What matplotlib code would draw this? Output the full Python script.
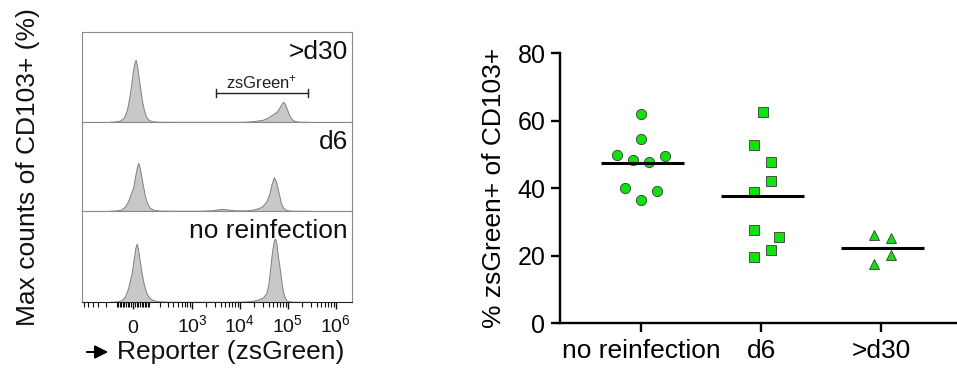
import numpy as np
import matplotlib
matplotlib.use("Agg")
import matplotlib.pyplot as plt

plt.rcParams['font.family'] = ['Liberation Sans', 'DejaVu Sans']
plt.rcParams['mathtext.fontset'] = 'custom'
plt.rcParams['mathtext.rm'] = 'Liberation Sans'
plt.rcParams['mathtext.it'] = 'Liberation Sans'
plt.rcParams['mathtext.bf'] = 'Liberation Sans'

# --- histogram data (reporter intensity vs % of max counts) ---
panel_labels = [">d30", "d6", "no reinfection"]

d30_x = [-158, -114, -78, -52, -34, -23, -11, 0, 8, 15, 23, 34, 44, 52, 65, 78, 99, 131, 199, 337,
         10030, 16220, 22720, 30300, 38520, 46720, 58550, 68580, 75510, 80380, 87240, 100800,
         110900, 122150, 141050, 179500, 290500]
d30_y = [0.3, 0.6, 1.5, 5, 14, 25, 40, 57, 66, 69, 63, 47, 34, 24, 13, 6, 2, 0.7, 0.3, 0.2,
         0.2, 0.6, 1.5, 2.5, 5, 8, 11.3, 17, 21, 22.6, 20, 11.3,
         6, 3, 1, 0.3, 0.2]

d6_x = [-158, -107, -71, -46, -28, -11, 2, 11, 23, 30, 40, 49, 60, 71, 85, 107, 139, 199, 337,
        1463, 2610, 3480, 4365, 5630, 7890, 12730, 17850, 23840, 28890, 35000, 41020, 45590,
        51400, 56590, 65380, 71970, 79220, 91600, 122150, 290500]
d6_y = [0.3, 0.6, 1.5, 5, 11, 20, 27, 38, 50, 54, 48, 38, 27, 17, 9, 3.5, 1.2, 0.5, 0.3,
        0.3, 0.8, 1.8, 2.4, 1.6, 0.8, 0.7, 1.3, 3, 5, 10, 19, 30,
        38, 33, 19, 9, 4, 1, 0.3, 0.2]

noreinf_x = [-158, -107, -71, -46, -28, -17, -7, 3, 14, 21, 28, 40, 50, 62, 78, 99, 131, 177, 337,
             6200, 12730, 17850, 23840, 30300, 35850, 39460, 42450, 46720, 50900, 53920, 57960,
             62300, 68580, 75510, 83200, 94690, 122150, 290500]
noreinf_y = [0.3, 0.6, 1.5, 6, 15, 24, 32, 46, 60, 64, 59, 44, 32, 21, 11, 5, 2, 0.8, 0.3,
             0.2, 0.5, 1.2, 2.5, 5, 10, 20, 35, 55, 67, 70, 64,
             50, 35, 18, 7, 1.5, 0.3, 0.2]

gate_lo, gate_hi = 3100, 268000

major_ticks = [0, 1e3, 1e4, 1e5, 1e6]
major_labels = ["0", "$10^{3}$", "$10^{4}$", "$10^{5}$", "$10^{6}$"]

# --- scatter data (% zsGreen+ of CD103+) ---
categories = ["no reinfection", "d6", ">d30"]
no_reinf = [62.0, 54.5, 49.9, 49.6, 48.4, 47.7, 40.0, 39.2, 36.5]
d6 = [62.7, 52.8, 47.9, 42.3, 39.0, 27.5, 25.5, 21.7, 19.5]
d30 = [26.1, 25.3, 20.1, 17.6]
no_reinf_dx = [0, 0, -0.2, 0.2, -0.065, 0.065, -0.135, 0.135, 0]
d6_dx = [0.014, -0.056, 0.083, 0.083, -0.056, -0.056, 0.15, 0.083, -0.056]
d30_dx = [-0.056, 0.08, 0.08, -0.056]

C = 117.0
fwd = lambda v: np.arcsinh(np.asarray(v) / C)
inv = lambda u: C * np.sinh(np.asarray(u))

fig = plt.figure(figsize=(9.57, 3.72), dpi=100)

# left: stacked histograms
W, H = 957.0, 372.0
left, right = 82 / W, 352 / W
bounds = [(32, 122), (122, 211), (211, 302)]
hist = [(d30_x, d30_y), (d6_x, d6_y), (noreinf_x, noreinf_y)]
axes = []
for i, ((top, bot), (hx, hy)) in enumerate(zip(bounds, hist)):
    ax = fig.add_axes([left, (H - bot) / H, right - left, (bot - top) / H])
    ax.set_xscale('function', functions=(fwd, inv))
    ax.set_xlim(-673, 2.19e6)
    ax.set_ylim(0, 100)
    ax.fill_between(hx, hy, 0, facecolor='#c8c8c8', edgecolor='#808080', lw=0.7)
    for s in ax.spines.values():
        s.set_color('#8a8a8a')
        s.set_linewidth(0.8)
    ax.set_yticks([])
    ax.text(0.985, 0.91, panel_labels[i], transform=ax.transAxes, ha='right', va='top',
            fontsize=19, color='#111111')
    axes.append(ax)

for ax in axes[:2]:
    ax.set_xticks([])
    ax.set_xticks([], minor=True)

axb = axes[2]
axb.spines['bottom'].set_color('#222222')
axb.set_xticks(major_ticks)
axb.set_xticklabels(major_labels)
minor = []
for d in range(1, 6):
    for k in range(1, 10):
        v = k * 10 ** d
        if v not in major_ticks:
            minor.append(v)
for d in (1, 2):
    for k in range(1, 10):
        if k * 10 ** d < 673:
            minor.append(-k * 10 ** d)
axb.set_xticks(minor, minor=True)
axb.tick_params(axis='x', which='major', length=5, width=1.0, color='#111111',
                labelsize=14, pad=17, labelcolor='#111111')
axb.tick_params(axis='x', which='minor', length=3.5, width=0.8, color='#111111')
for lbl in axb.get_xticklabels():
    lbl.set_va('baseline')

# gate bracket on top panel
axt = axes[0]
gy = 31.9
axt.plot([gate_lo, gate_hi], [gy, gy], color='#222222', lw=1.0)
axt.plot([gate_lo, gate_lo], [gy - 4.5, gy + 4.5], color='#222222', lw=1.0)
axt.plot([gate_hi, gate_hi], [gy - 4.5, gy + 4.5], color='#222222', lw=1.0)
axt.text(np.sqrt(gate_lo * gate_hi), gy + 2.5, "zsGreen$^{+}$", ha='center', va='bottom',
         fontsize=12, color='#222222')

fig.text(28 / W, 0.55, "Max counts of CD103+ (%)", rotation=90, ha='center', va='center',
         fontsize=19, color='#111111')
fig.text(117 / W, 1 - 352 / H, "Reporter (zsGreen)", ha='left', va='center', fontsize=19,
         color='#111111')
fig.add_artist(matplotlib.patches.FancyArrowPatch((84 / W, 1 - 352 / H), (111 / W, 1 - 352 / H),
                                                  transform=fig.transFigure, arrowstyle='-|>',
                                                  mutation_scale=20, color='black', lw=1.4))

# right: column scatter
ax2 = fig.add_axes([560 / W, (H - 323.3) / H, 397 / W, 270 / H])
green = '#0fe20f'
edge = '#3a3a3a'
groups = [(no_reinf, no_reinf_dx, 'o'), (d6, d6_dx, 's'), (d30, d30_dx, '^')]
for i, (vals, dx, m) in enumerate(groups):
    ax2.plot(np.array(dx) + i, vals, linestyle='none', marker=m, markersize=7.4,
             markerfacecolor=green, markeredgecolor=edge, markeredgewidth=0.6, clip_on=False)
    ax2.hlines(np.mean(vals), i - 0.335, i + 0.36, color='black', lw=2.2)

ax2.set_xlim(-0.675, 2.633)
ax2.set_ylim(0, 80)
ax2.set_yticks([0, 20, 40, 60, 80])
ax2.set_xticks(range(len(categories)))
ax2.set_xticklabels(categories)
ax2.spines['top'].set_visible(False)
ax2.spines['right'].set_visible(False)
for s in ('left', 'bottom'):
    ax2.spines[s].set_linewidth(1.7)
ax2.tick_params(axis='y', length=6.5, width=1.7, labelsize=18, pad=4)
ax2.tick_params(axis='x', length=6.5, width=1.7, labelsize=19, pad=5)
ax2.set_ylabel("% zsGreen+ of CD103+", fontsize=19, labelpad=8)

fig.savefig("out.png", dpi=100)
